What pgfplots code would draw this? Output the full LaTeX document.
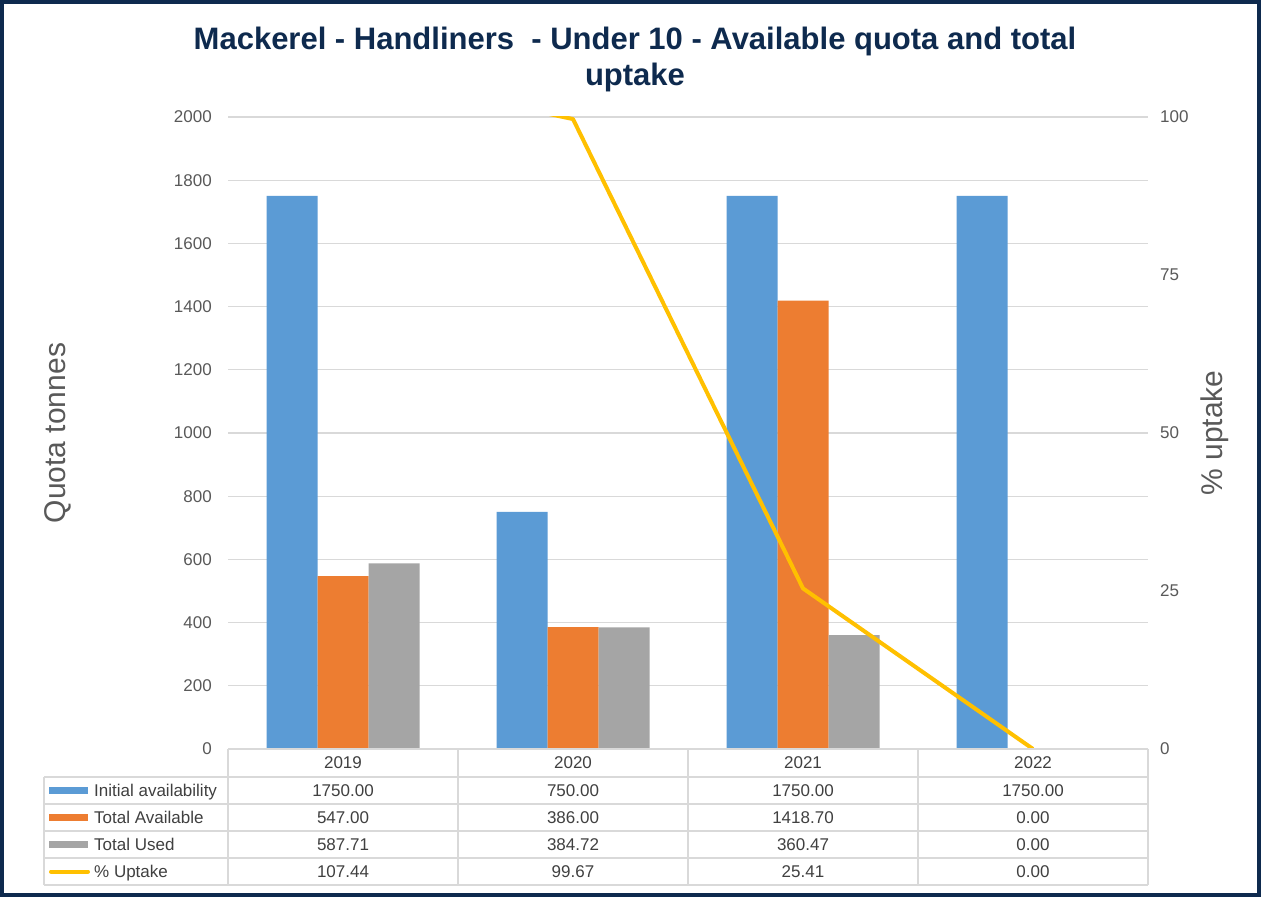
\documentclass[border=0pt]{standalone}
\usepackage{pgfplots}
\pgfplotsset{compat=1.18}
\usepackage{fontspec}
\setmainfont{Liberation Sans}
\definecolor{cblue}{HTML}{5B9BD5}
\definecolor{corange}{HTML}{ED7D31}
\definecolor{cgray}{HTML}{A5A5A5}
\definecolor{cyellow}{HTML}{FFC000}
\definecolor{gridc}{HTML}{D9D9D9}
\definecolor{txt}{HTML}{595959}
\definecolor{tabtxt}{HTML}{404040}
\definecolor{navy}{HTML}{0E2A4E}
\begin{document}
\begin{tikzpicture}[x=1pt,y=1pt]
\fill[white] (0,0) rectangle (1261,897);
\useasboundingbox (0,0) rectangle (1261,897);
\begin{axis}[at={(228pt,148pt)}, anchor=south west, scale only axis,
  width=920pt, height=632pt,
  xmin=-0.5, xmax=3.5, ymin=0, ymax=2000, ytick={0,200,...,2000}, xtick=\empty,
  axis line style={draw=none}, ymajorgrids, grid style={gridc, line width=1.2pt},
  major tick length=0pt, ytick style={draw=none},
  ybar=0pt, bar width=51pt,
  /pgf/number format/1000 sep={}, /pgf/number format/assume math mode=true,
  yticklabel style={font=\fontsize{17}{20}\selectfont, text=txt, inner sep=0pt, xshift=-16pt}]
\addplot[fill=cblue, draw=none] coordinates {(0,1750) (1,750) (2,1750) (3,1750)};
\addplot[fill=corange, draw=none] coordinates {(0,547) (1,386) (2,1418.70) (3,0)};
\addplot[fill=cgray, draw=none] coordinates {(0,587.71) (1,384.72) (2,360.47) (3,0)};
\end{axis}
\begin{axis}[at={(228pt,148pt)}, anchor=south west, scale only axis,
  width=920pt, height=632pt,
  xmin=-0.5, xmax=3.5, ymin=0, ymax=100, ytick={0,25,...,100}, xtick=\empty,
  axis line style={draw=none}, yticklabel pos=right,
  major tick length=0pt, ytick style={draw=none},
  /pgf/number format/assume math mode=true,
  yticklabel style={font=\fontsize{17}{20}\selectfont, text=txt, inner sep=0pt, anchor=west, xshift=12pt}]
\addplot[cyellow, line width=4pt, line join=round, no marks] coordinates {(0,107.44) (1,99.67) (2,25.41) (3,0)};
\end{axis}
% title
\node[align=center, font=\fontsize{31}{36}\selectfont\bfseries, text=navy] at (635,838)
  {Mackerel - Handliners\ \ - Under 10 - Available quota and total\\uptake};
% axis labels
\node[rotate=90, font=\fontsize{30}{36}\selectfont, text=txt] at (58,464) {Quota tonnes};
\node[rotate=90, font=\fontsize{30}{36}\selectfont, text=txt] at (1215,464) {\% uptake};
% data table
\begin{scope}[draw=gridc, line width=1.2pt]
\draw (228,148) -- (1148,148);
\draw (44,120) -- (1148,120);
\draw (44,93) -- (1148,93);
\draw (44,66) -- (1148,66);
\draw (44,39) -- (1148,39);
\draw (44,12) -- (1148,12);
\draw (44,120) -- (44,12);
\foreach \xx in {228,458,688,918,1148} \draw (\xx,148) -- (\xx,12);
\end{scope}
\begin{scope}[font=\fontsize{17}{20}\selectfont, text=tabtxt, every node/.style={anchor=base, inner sep=0pt}]
\foreach \yr/\xx in {2019/343,2020/573,2021/803,2022/1033} \node at (\xx,128) {\yr};
\node[anchor=base west] at (94,100.5) {Initial availability};
\node[anchor=base west] at (94,73.5) {Total Available};
\node[anchor=base west] at (94,46.5) {Total Used};
\node[anchor=base west] at (94,19.5) {\% Uptake};
\foreach \v/\xx in {1750.00/343,750.00/573,1750.00/803,1750.00/1033} \node at (\xx,100.5) {\v};
\foreach \v/\xx in {547.00/343,386.00/573,1418.70/803,0.00/1033} \node at (\xx,73.5) {\v};
\foreach \v/\xx in {587.71/343,384.72/573,360.47/803,0.00/1033} \node at (\xx,46.5) {\v};
\foreach \v/\xx in {107.44/343,99.67/573,25.41/803,0.00/1033} \node at (\xx,19.5) {\v};
\end{scope}
\fill[cblue] (49,103) rectangle (88,110);
\fill[corange] (49,76) rectangle (88,83);
\fill[cgray] (49,49) rectangle (88,56);
\draw[cyellow, line width=4pt, line cap=round] (51,25.5) -- (88,25.5);
% frame
\draw[navy, line width=4pt] (2,2) rectangle (1259,895);
\end{tikzpicture}
\end{document}
